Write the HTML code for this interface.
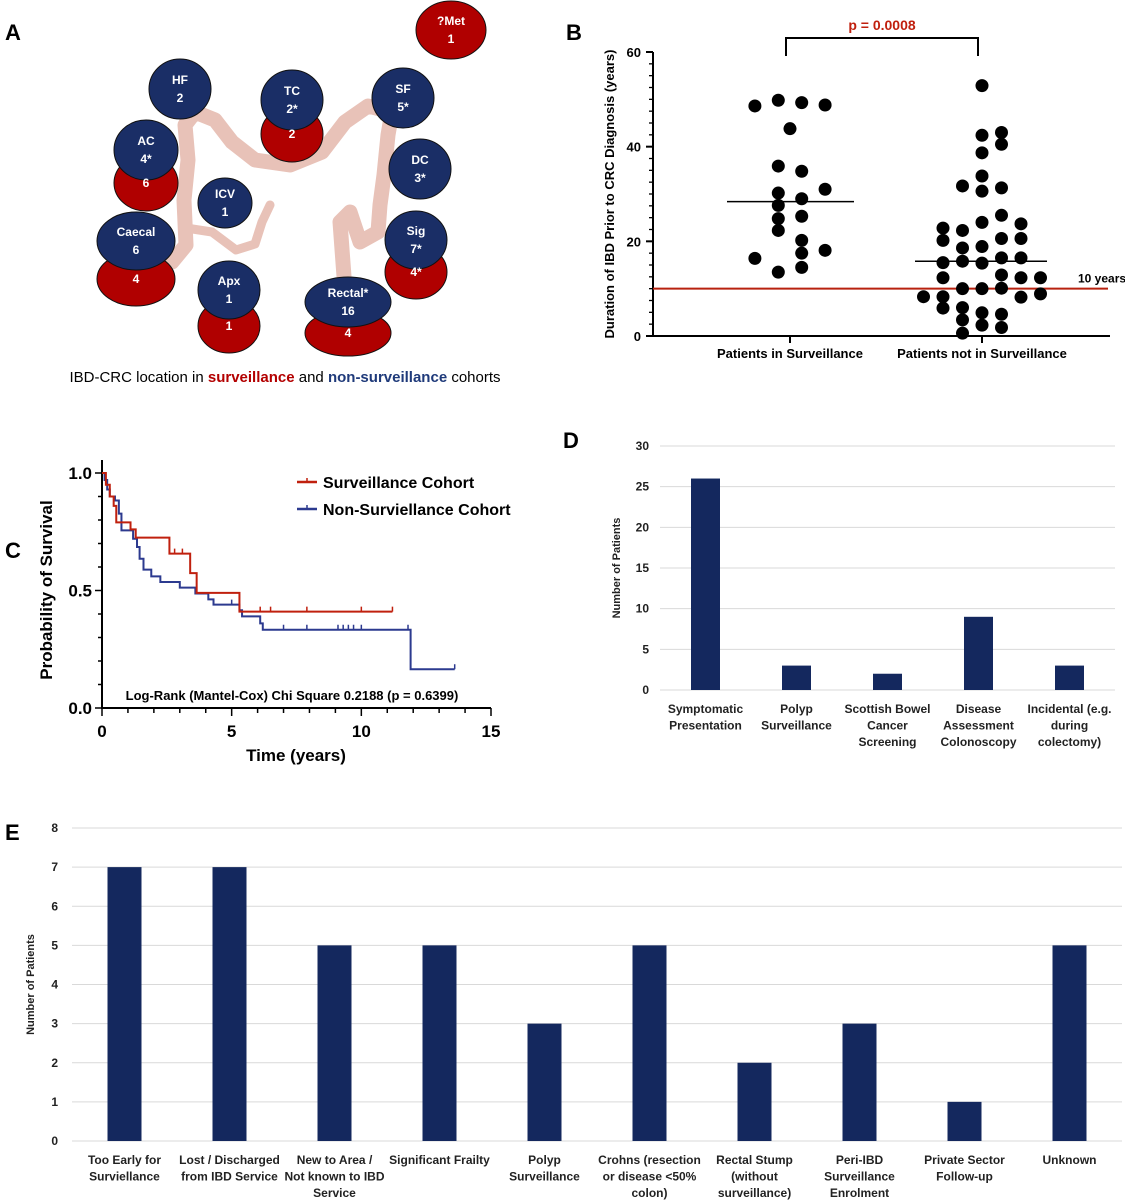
<!DOCTYPE html>
<html><head><meta charset="utf-8"><style>
html,body{margin:0;padding:0;background:#fff}
svg{display:block;font-family:"Liberation Sans",sans-serif}
.b{font-weight:bold}
</style></head><body>
<svg id="fig" width="1125" height="1200" viewBox="0 0 1125 1200" xmlns="http://www.w3.org/2000/svg">
<g id="panelA">
<text x="5" y="40" font-size="22" class="b">A</text>
<g fill="none" stroke="#e8c2b8" stroke-width="15" stroke-linecap="round" stroke-linejoin="round">
<path d="M172 262 L186 245 L184 200 L188 160 L185 125 L195 112 L215 120 L232 142 L255 160 L290 165 L322 152 L345 122 L368 106 L392 112 L388 135 L384 175 L380 205 L378 232 L360 242 L350 212 L340 222 L345 290"/>
<path d="M186 228 L212 232 L236 250 L255 244 L262 222 L270 205" stroke-width="9"/>
</g>
<g id="bubbles" stroke="#111" stroke-width="1"></g>
<text x="285" y="382" font-size="15" text-anchor="middle">IBD-CRC location in <tspan fill="#b30000" font-weight="bold">surveillance</tspan> and <tspan fill="#1f3a7a" font-weight="bold">non-surveillance</tspan> cohorts</text>
</g>
<g id="panelB">
<text x="566" y="40" font-size="22" class="b">B</text>
</g>
<g id="panelC">
<text x="5" y="558" font-size="22" class="b">C</text>
</g>
<g id="panelD">
<text x="563" y="448" font-size="22" class="b">D</text>
</g>
<g id="panelE">
<text x="5" y="840" font-size="22" class="b">E</text>
</g>
</svg>
<script>
const NS='http://www.w3.org/2000/svg';
function mk(parent,tag,attrs,txt){const e=document.createElementNS(NS,tag);for(const k in attrs)e.setAttribute(k,attrs[k]);if(txt!==undefined)e.textContent=txt;parent.appendChild(e);return e;}

// ---- Panel A data ----
const bubbleLabels=['HF','TC','SF','AC','DC','ICV','Caecal','Sig','Apx','Rectal*','?Met'];
const nonSurvCounts=['2','2*','5*','4*','3*','1','6','7*','1','16',''];
const survCounts=['','2','','6','','','4','4*','1','4','1'];
const bubbleCx=[180,292,403,146,420,225,136,416,229,348,451];
const bubbleCy=[89,100,98,150,169,203,241,240,290,302,30];
const bubbleRx=[31,31,31,32,31,27,39,31,31,43,35];
const bubbleRy=[30,30,30,30,30,25,29,29,29,25,29];
const redDy=[0,34,0,33,0,0,38,32,36,31,0];
const bub=document.getElementById('bubbles');
for(let i=0;i<bubbleLabels.length;i++){
  const g=mk(bub,'g',{});
  
  
  const isMet=bubbleLabels[i]==='?Met';
  const hasRed=survCounts[i]!==''&&!isMet;
  if(hasRed){
    const e=mk(g,'ellipse',{cx:bubbleCx[i],cy:bubbleCy[i]+redDy[i],rx:bubbleRx[i],ry:bubbleRy[i]-2,fill:'#b00000'});
    
    
  }
  const col=isMet?'#b00000':'#1a2e66';
  const e2=mk(g,'ellipse',{cx:bubbleCx[i],cy:bubbleCy[i],rx:bubbleRx[i],ry:bubbleRy[i],fill:col});
  
  
  mk(g,'text',{x:bubbleCx[i],y:bubbleCy[i]-5,'text-anchor':'middle','font-size':12,fill:'#fff','font-weight':'bold',stroke:'none'},bubbleLabels[i]);
  mk(g,'text',{x:bubbleCx[i],y:bubbleCy[i]+13,'text-anchor':'middle','font-size':12,fill:'#fff','font-weight':'bold',stroke:'none'},isMet?survCounts[i]:nonSurvCounts[i]);
  if(hasRed){
    mk(g,'text',{x:bubbleCx[i],y:bubbleCy[i]+redDy[i]+4,'text-anchor':'middle','font-size':12,fill:'#fff','font-weight':'bold',stroke:'none'},survCounts[i]);
  }
}

// ---- Panel B data ----
const bTicks=[0,20,40,60];
const bCategories=['Patients in Surveillance','Patients not in Surveillance'];
const survValues=[48.6,49.8,49.3,48.8,43.8,35.9,34.8,31.0,30.2,29.0,27.6,24.8,25.3,22.3,20.2,17.5,18.1,16.4,14.5,13.5];
const survJitter=[-3,-1,1,3,0,-1,1,3,-1,1,-1,-1,1,-1,1,1,3,-3,1,-1];
const nonValues=[52.9,42.4,43.0,40.5,38.7,33.8,31.7,30.6,31.3,25.5,24.0,23.7,22.8,22.3,20.2,20.6,20.6,18.6,18.9,15.5,15.8,15.4,16.5,16.5,12.3,12.9,12.3,12.3,10.0,10.0,10.1,8.3,8.3,8.2,8.9,5.9,6.0,4.9,4.6,3.4,2.3,1.8,0.6];
const nonJitter=[0,0,1,1,0,0,-1,0,1,1,0,2,-2,-1,-2,1,2,-1,0,-2,-1,0,1,2,-2,1,2,3,-1,0,1,-3,-2,2,3,-2,-1,0,1,-1,0,1,-1];
const survMedian=28.4, nonMedian=15.8, threshold=10, pText='p = 0.0008';
(function(){
  const P=document.getElementById('panelB');
  const y=v=>336-v*(284/60);
  const cx=[790,982];
  const axis=mk(P,'g',{stroke:'#000','stroke-width':2});
  
  
  mk(axis,'line',{x1:653,y1:y(60),x2:653,y2:337});
  mk(axis,'line',{x1:652,y1:336,x2:1110,y2:336});
  for(let v=0;v<=60;v+=2.5){mk(axis,'line',{x1:v%20===0?646:649,y1:y(v),x2:653,y2:y(v),'stroke-width':v%20===0?2:1.3});}
  bTicks.forEach(v=>{const t=mk(P,'text',{x:641,y:y(v)+5,'text-anchor':'end','font-size':13,'font-weight':'bold'},v);
    });
  bCategories.forEach((c,i)=>{mk(axis,'line',{x1:cx[i],y1:336,x2:cx[i],y2:343});
    const t=mk(P,'text',{x:cx[i],y:358,'text-anchor':'middle','font-size':13,'font-weight':'bold'},c);
    });
  const yt=mk(P,'text',{transform:'translate(614,194) rotate(-90)','text-anchor':'middle','font-size':13,'font-weight':'bold'},'Duration of IBD Prior to CRC Diagnosis (years)');
  
  const th=mk(P,'line',{x1:653,y1:y(threshold),x2:1108,y2:y(threshold),stroke:'#b8210f','stroke-width':2});
  
  const tl=mk(P,'text',{x:1078,y:y(threshold)-6,'font-size':12,'font-weight':'bold'},'10 years');
  
  survValues.forEach((v,i)=>{const c=mk(P,'circle',{cx:cx[0]+survJitter[i]*11.7,cy:y(v),r:6.5,fill:'#000'});
    });
  nonValues.forEach((v,i)=>{const c=mk(P,'circle',{cx:cx[1]+nonJitter[i]*19.5,cy:y(v),r:6.5,fill:'#000'});
    });
  const m1=mk(P,'line',{x1:727,y1:y(survMedian),x2:854,y2:y(survMedian),stroke:'#000','stroke-width':1.5});
  
  const m2=mk(P,'line',{x1:915,y1:y(nonMedian),x2:1047,y2:y(nonMedian),stroke:'#000','stroke-width':1.5});
  
  const br=mk(P,'path',{d:'M786 56 V38 H978 V56',fill:'none',stroke:'#000','stroke-width':2});
  
  const pt=mk(P,'text',{x:882,y:30,'text-anchor':'middle','font-size':14,'font-weight':'bold',fill:'#c0200e'},pText);
  
})();

// ---- Panel C data ----
const redTimes=[0,0.15,0.3,0.45,0.55,1.1,1.3,2.6,3.4,3.65,5.3];
const redSurv=[1.0,0.95,0.90,0.86,0.79,0.76,0.725,0.657,0.574,0.49,0.41];
const redEnd=11.2;
const redCensor=[2.8,3.1,6.1,6.5,7.9,10.0,11.2];
const blueTimes=[0,0.1,0.2,0.3,0.5,0.65,0.75,1.2,1.35,1.45,1.6,1.9,2.25,3.0,3.6,4.1,4.3,5.3,5.4,6.1,6.2,11.9];
const blueSurv=[1.0,0.97,0.93,0.90,0.883,0.827,0.756,0.72,0.685,0.635,0.589,0.56,0.536,0.512,0.487,0.462,0.44,0.416,0.39,0.36,0.333,0.165];
const blueEnd=13.6;
const blueCensor=[1.2,5.0,7.0,7.9,9.1,9.3,9.5,9.7,10.0,11.8,13.6];
const cXTicks=[0,5,10,15];
const cYTicks=['0.0','0.5','1.0'];
(function(){
  const P=document.getElementById('panelC');
  const x=t=>102+t*(389/15), y=p=>708-p*235;
  const ax=mk(P,'g',{stroke:'#000','stroke-width':2});
  
  mk(ax,'line',{x1:102,y1:460,x2:102,y2:709});
  mk(ax,'line',{x1:101,y1:708,x2:491,y2:708});
  for(let p=0;p<=10;p++)mk(ax,'line',{x1:p%5===0?95:98,y1:y(p/10),x2:102,y2:y(p/10),'stroke-width':1.5});
  for(let t=0;t<=15;t++)mk(ax,'line',{x1:x(t),y1:708,x2:x(t),y2:t%5===0?716:713,'stroke-width':1.5});
  cYTicks.forEach(s=>{const e=mk(P,'text',{x:92,y:y(+s)+6,'text-anchor':'end','font-size':17,'font-weight':'bold'},s);
    });
  cXTicks.forEach(t=>{const e=mk(P,'text',{x:x(t),y:737,'text-anchor':'middle','font-size':17,'font-weight':'bold'},t);
    });
  const xt=mk(P,'text',{x:296,y:761,'text-anchor':'middle','font-size':17,'font-weight':'bold'},'Time (years)');
  
  const yt=mk(P,'text',{transform:'translate(52,590) rotate(-90)','text-anchor':'middle','font-size':17,'font-weight':'bold'},'Probability of Survival');
  
  function step(times,surv,end){let d='M'+x(times[0])+' '+y(surv[0]);
    for(let i=1;i<times.length;i++){d+=' H'+x(times[i])+' V'+y(surv[i]);} d+=' H'+x(end);return d;}
  function survAt(times,surv,t){let s=surv[0];for(let i=0;i<times.length;i++)if(times[i]<=t)s=surv[i];return s;}
  const bl=mk(P,'path',{d:step(blueTimes,blueSurv,blueEnd),fill:'none',stroke:'#2c3a8f','stroke-width':2});
  
  blueCensor.forEach(t=>{const yy=y(survAt(blueTimes,blueSurv,t));const c=mk(P,'line',{x1:x(t),y1:yy-5,x2:x(t),y2:yy,stroke:'#2c3a8f','stroke-width':1.5});
    });
  const rl=mk(P,'path',{d:step(redTimes,redSurv,redEnd),fill:'none',stroke:'#c0200e','stroke-width':2});
  
  redCensor.forEach(t=>{const yy=y(survAt(redTimes,redSurv,t));const c=mk(P,'line',{x1:x(t),y1:yy-5,x2:x(t),y2:yy,stroke:'#c0200e','stroke-width':1.5});
    });
  const lg=mk(P,'g',{});
  
  mk(lg,'line',{x1:297,y1:482,x2:317,y2:482,stroke:'#c0200e','stroke-width':2.5});
  mk(lg,'line',{x1:307,y1:478,x2:307,y2:482,stroke:'#c0200e','stroke-width':1.5});
  mk(lg,'text',{x:323,y:488,'font-size':16,'font-weight':'bold'},'Surveillance Cohort');
  mk(lg,'line',{x1:297,y1:509,x2:317,y2:509,stroke:'#2c3a8f','stroke-width':2.5});
  mk(lg,'line',{x1:307,y1:505,x2:307,y2:509,stroke:'#2c3a8f','stroke-width':1.5});
  mk(lg,'text',{x:323,y:515,'font-size':16,'font-weight':'bold'},'Non-Surviellance Cohort');
  const an=mk(P,'text',{x:292,y:700,'text-anchor':'middle','font-size':13,'font-weight':'bold'},'Log-Rank (Mantel-Cox) Chi Square 0.2188 (p = 0.6399)');
  
})();

// ---- Panel D data ----
const dCategories=[['Symptomatic','Presentation'],['Polyp','Surveillance'],['Scottish Bowel','Cancer','Screening'],['Disease','Assessment','Colonoscopy'],['Incidental (e.g.','during','colectomy)']];
const dValues=[26,3,2,9,3];
const dTicks=[0,5,10,15,20,25,30];
// ---- Panel E data ----
const eCategories=[['Too Early for','Surviellance'],['Lost / Discharged','from IBD Service'],['New to Area /','Not known to IBD','Service'],['Significant Frailty'],['Polyp','Surveillance'],['Crohns (resection','or disease <50%','colon)'],['Rectal Stump','(without','surveillance)'],['Peri-IBD','Surveillance','Enrolment'],['Private Sector','Follow-up'],['Unknown']];
const eValues=[7,7,5,5,3,5,2,3,1,5];
const eTicks=[0,1,2,3,4,5,6,7,8];

function barChart(P,pre,cats,vals,ticks,o){
  const y=v=>o.y0-v*(o.y0-o.yTop)/ticks[ticks.length-1];
  const step=(o.x1-o.x0)/cats.length;
  ticks.forEach(t=>{const g=mk(P,'line',{x1:o.x0,y1:y(t),x2:o.x1,y2:y(t),stroke:'#d9d9d9','stroke-width':1});
    
    const l=mk(P,'text',{x:o.tx,y:y(t)+4,'text-anchor':'end','font-size':12,'font-weight':'bold',fill:'#222'},t);
    });
  vals.forEach((v,i)=>{const cx=o.x0+step*(i+0.5);
    const r=mk(P,'rect',{x:cx-o.bw/2,y:y(v),width:o.bw,height:y(0)-y(v),fill:'#14285e'});
    
    const t=mk(P,'text',{x:cx,y:o.ly,'text-anchor':'middle','font-size':12,'font-weight':'bold',fill:'#222'});
    
    cats[i].forEach((line,j)=>mk(t,'tspan',{x:cx,dy:j===0?0:16.5},line));});
  const yt=mk(P,'text',{transform:`translate(${o.yx},${(o.y0+o.yTop)/2}) rotate(-90)`,'text-anchor':'middle','font-size':11,'font-weight':'bold',fill:'#222'},'Number of Patients');
  
}
barChart(document.getElementById('panelD'),'d',dCategories,dValues,dTicks,{x0:660,x1:1115,y0:690,yTop:446,bw:29,tx:649,ly:713,yx:620});
barChart(document.getElementById('panelE'),'e',eCategories,eValues,eTicks,{x0:72,x1:1122,y0:1141,yTop:828,bw:34,tx:58,ly:1164,yx:34});
</script>
</body></html>
